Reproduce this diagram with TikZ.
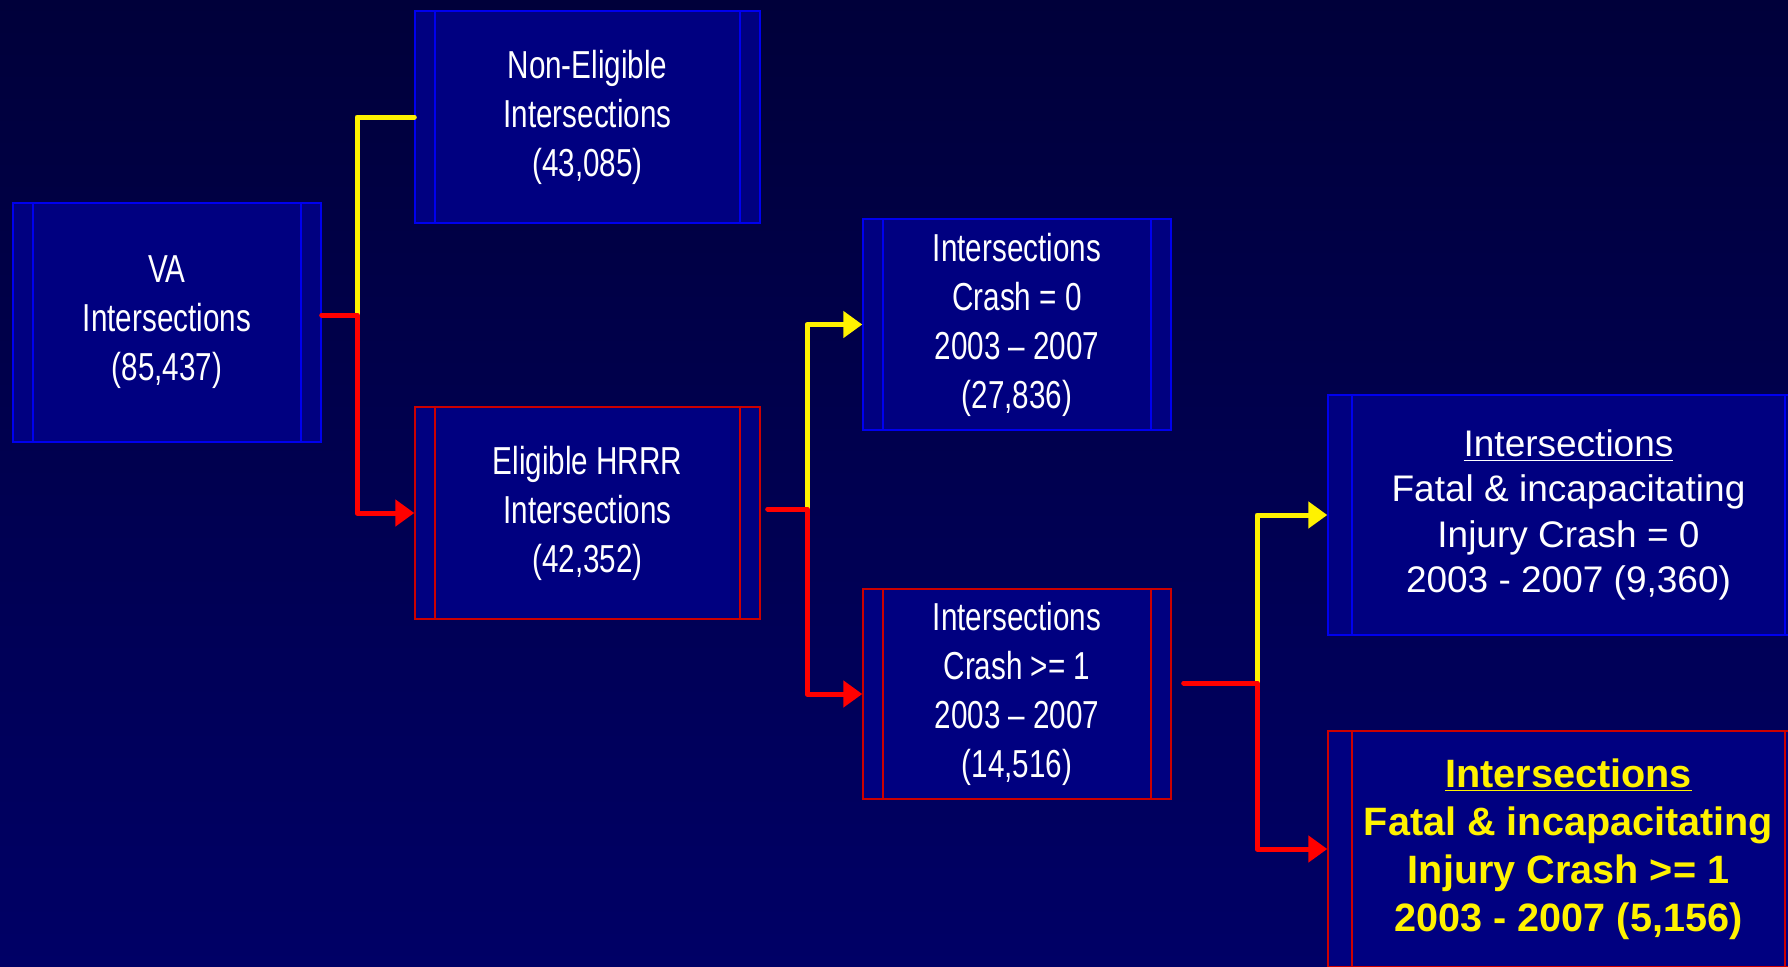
\documentclass[tikz,border=0pt]{standalone}
\usepackage{fontspec}
\setmainfont{Liberation Sans}
\newfontfamily\narrowfont[FakeStretch=0.76]{Liberation Sans}
\usetikzlibrary{arrows.meta}
\definecolor{bgtop}{HTML}{00003A}
\definecolor{bgbot}{HTML}{000066}
\definecolor{boxfill}{HTML}{000080}
\definecolor{boxblue}{HTML}{0000EE}
\definecolor{boxred}{HTML}{CC0000}

\begin{document}
\begin{tikzpicture}[x=0.5pt, y=-0.5pt, band/.store in=\bandw, band=10pt,
	box/.style={draw=#1, fill=boxfill, line width=0.7pt, inner sep=0pt, align=center, text=white,
		path picture={\draw[#1, line width=0.7pt] ([xshift=\bandw]path picture bounding box.north west) -- ([xshift=\bandw]path picture bounding box.south west) ([xshift=-\bandw]path picture bounding box.north east) -- ([xshift=-\bandw]path picture bounding box.south east);}},
	nar/.style={font={\narrowfont\fontsize{19.5pt}{24.5pt}\selectfont}},
	wide/.style={band=12pt, minimum width=240.5pt, font={\fontsize{18.5pt}{22.6pt}\selectfont}},
	link/.style={line width=2.5pt, line cap=round, line join=round},
	tip/.style={-{Triangle[length=9.5pt, width=13pt]}}]
	\useasboundingbox (0,0) rectangle (1788,966);
	\clip (0,0) rectangle (1788,966);
	\shade[top color=bgtop, bottom color=bgbot] (0,0) rectangle (1788,966);
	\node[box=boxblue, nar, minimum width=154pt, minimum height=119.5pt] (va) at (167,322.5) {VA\\Intersections\\(85,437)};
	\node[box=boxblue, nar, minimum width=172.5pt, minimum height=106pt] (nonel) at (587.5,117) {Non-Eligible\\Intersections\\(43,085)};
	\node[box=boxred, nar, minimum width=172.5pt, minimum height=106pt] (elig) at (587.5,513) {Eligible HRRR\\Intersections\\(42,352)};
	\node[box=boxblue, nar, minimum width=154pt, minimum height=105.5pt] (crz) at (1017,324.5) {Intersections\\Crash = 0\\2003 – 2007\\(27,836)};
	\node[box=boxred, nar, minimum width=154pt, minimum height=105pt] (crp) at (1017,694) {Intersections\\Crash >= 1\\2003 – 2007\\(14,516)};
	\node[box=boxblue, wide, minimum height=120pt] (fz) at (1568.5,515) {\underline{Intersections}\\Fatal \& incapacitating\\Injury Crash = 0\\2003 - 2007 (9,360)};
	\node[box=boxred, wide, minimum height=118pt, text=yellow, font={\bfseries\fontsize{19.8pt}{24pt}\selectfont}] (fp) at (1568.5,849) {\underline{Intersections}\\Fatal \& incapacitating\\Injury Crash >= 1\\2003 - 2007 (5,156)};
	\coordinate (j1) at (357,315); \coordinate (j2) at (807,509); \coordinate (j3) at (1257,683);
	\draw[link, yellow] (j1) |- (nonel.west);
	\draw[link, red, tip] (va.east |- j1) -- (j1) |- (elig.west);
	\foreach \s/\j/\g/\u/\d in {elig/j2/3.5pt/crz/crp, crp/j3/6pt/fz/fp} {\draw[link, yellow, tip] (\j) |- (\u.west); \draw[link, red, tip] ([xshift=\g]\s.east |- \j) -- (\j) |- (\d.west);}
\end{tikzpicture}
\end{document}
